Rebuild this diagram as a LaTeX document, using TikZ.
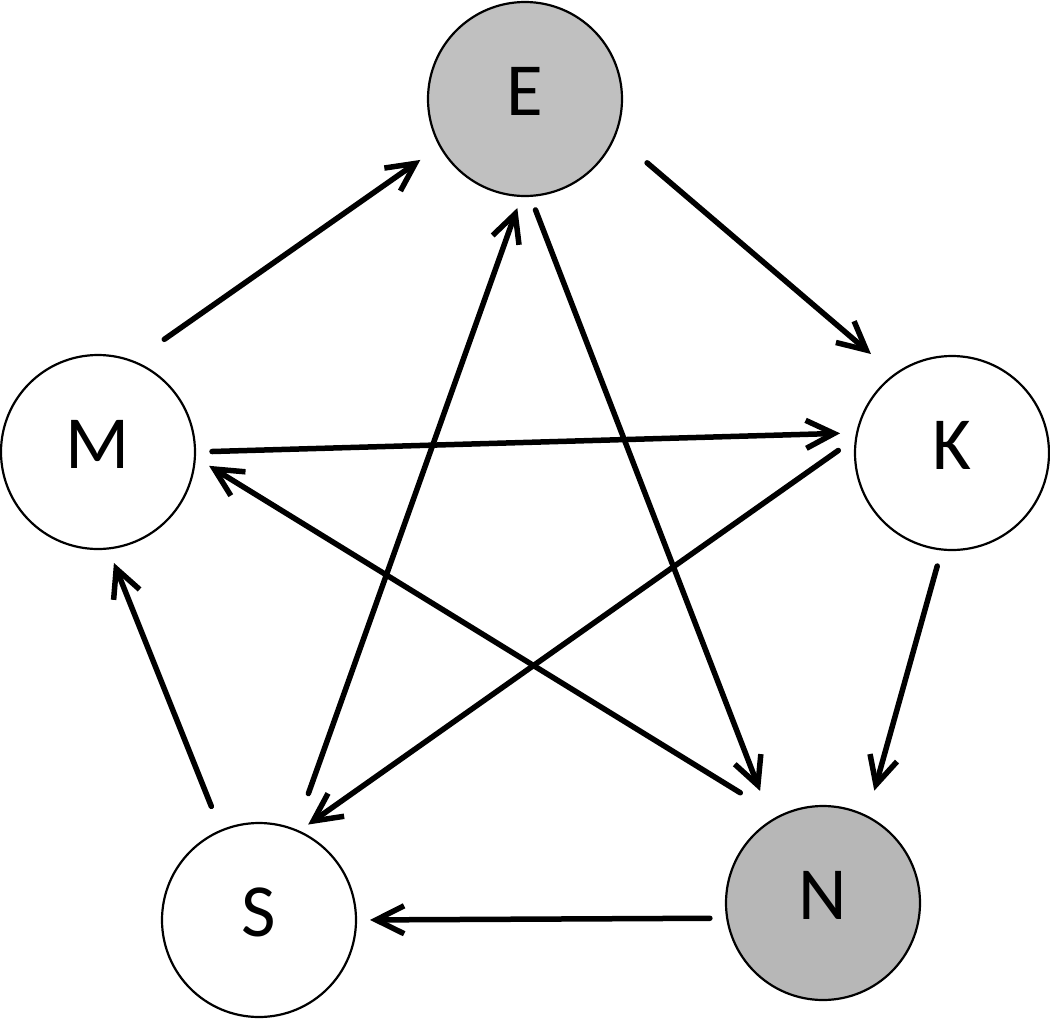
\documentclass[tikz,border=0pt]{standalone}
\usepackage{fontspec}
\setmainfont{Carlito}
\usetikzlibrary{arrows.meta}
\definecolor{egray}{RGB}{192,192,192}
\definecolor{ngray}{RGB}{183,183,183}
\begin{document}
\begin{tikzpicture}[x=1pt,y=-1pt,
  state/.style={circle, draw, line width=2.2pt, minimum size=194pt, inner sep=0pt, outer sep=0pt,
    font=\fontsize{75}{80}\selectfont, text depth=15pt},
  arr/.style={line width=5.5pt, line cap=round, -{Straight Barb[length=28pt,width=28pt]}}]
\useasboundingbox (0,0) rectangle (1050,1023);
\node[state, fill=egray] (E) at (525,99) {E};
\node[state, fill=white] (M) at (98,452) {M};
\node[state, fill=white] (K) at (952,453) {K};
\node[state, fill=white] (S) at (259,920) {S};
\node[state, fill=ngray] (N) at (823,903) {N};
\draw[arr, shorten <=38.5pt, shorten >=24.2pt] (M.69.9) -- (E.209.9);
\draw[arr, shorten <=42.3pt, shorten >=31.6pt] (E.-22.2) -- (K.126.0);
\draw[arr, shorten <=17pt, shorten >=17pt] (M.-0.9) -- (K.168.4);
\draw[arr, shorten <=21.9pt, shorten >=11.9pt] (K.171.9) -- (S.66.8);
\draw[arr, shorten <=17.2pt, shorten >=26.9pt] (K.-96.1) -- (N.63.9);
\draw[arr, shorten <=45.4pt, shorten >=16.7pt] (N.117.2) -- (M.-3.7);
\draw[arr, shorten <=15.1pt, shorten >=31.9pt] (E.-87.9) -- (N.122.0);
\draw[arr, shorten <=38.8pt, shorten >=12.8pt] (S.68.9) -- (E.-92.2);
\draw[arr, shorten <=17.3pt, shorten >=14pt] (N.189.5) -- (S.0.6);
\draw[arr, shorten <=26.2pt, shorten >=15.6pt] (S.113.9) -- (M.-84.6);
\end{tikzpicture}
\end{document}
